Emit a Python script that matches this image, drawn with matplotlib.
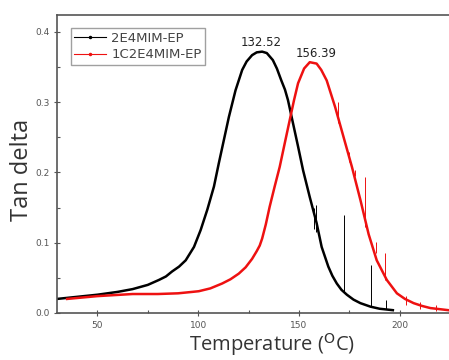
import matplotlib.pyplot as plt
from matplotlib.lines import Line2D
from matplotlib.ticker import MultipleLocator

# 2E4MIM-EP
t_black = [30, 40, 50, 60, 67.5, 75, 80.5, 84, 87, 90.5, 93.8, 97.9, 101.2, 104.5,
           107.8, 110.2, 112.7, 115.2, 118.5, 121.8, 124, 126.7, 129, 131.7, 134,
           137, 139, 141.2, 143, 144.5, 147, 149.5, 152, 155.3, 158.7, 161.2, 164.5,
           166.5, 168.7, 171, 173.7, 177, 180.4, 185.4, 190, 196.5]
y_black = [0.020, 0.023, 0.026, 0.030, 0.034, 0.040, 0.047, 0.052, 0.059, 0.066,
           0.075, 0.094, 0.118, 0.147, 0.180, 0.213, 0.246, 0.279, 0.317, 0.346,
           0.358, 0.367, 0.371, 0.372, 0.370, 0.360, 0.348, 0.331, 0.318, 0.303,
           0.270, 0.237, 0.203, 0.165, 0.128, 0.094, 0.066, 0.053, 0.042, 0.033,
           0.026, 0.019, 0.014, 0.009, 0.006, 0.004]

# 1C2E4MIM-EP
t_red = [35, 50, 67.5, 80, 90, 97, 100.3, 106, 111.9, 116, 120.1, 123.5, 126.7, 129,
         130.5, 131.7, 133.5, 135.4, 137.9, 140.4, 143, 145.4, 147.5, 149.5, 152.5,
         155.3, 158.7, 161, 163.7, 167.9, 172, 176.2, 180.4, 184.5, 188.5, 193.5,
         198.5, 202.5, 206.8, 211, 215.1, 224]
y_red = [0.020, 0.024, 0.027, 0.027, 0.028, 0.030, 0.031, 0.035, 0.042, 0.048,
         0.056, 0.065, 0.077, 0.088, 0.096, 0.106, 0.126, 0.151, 0.180, 0.208,
         0.243, 0.275, 0.303, 0.327, 0.348, 0.357, 0.355, 0.346, 0.331, 0.293,
         0.251, 0.208, 0.161, 0.112, 0.075, 0.047, 0.028, 0.020, 0.014, 0.010,
         0.007, 0.004]

# noise spikes (temperature, low, high)
spike_t_black = [157.5, 158.5, 172.3, 185.5, 192.9]
spike_lo_black = [0.12, 0.115, 0.03, 0.010, 0.006]
spike_hi_black = [0.150, 0.154, 0.139, 0.068, 0.018]

spike_t_red = [169.5, 174.8, 177.7, 182.7, 188, 192.6, 203, 210, 218]
spike_lo_red = [0.27, 0.215, 0.195, 0.123, 0.085, 0.047, 0.012, 0.005, 0.003]
spike_hi_red = [0.30, 0.229, 0.203, 0.193, 0.101, 0.085, 0.024, 0.015, 0.012]

series_labels = ['2E4MIM-EP', '1C2E4MIM-EP']
peak_labels = ["132.52", "156.39"]
peak_pos = [(131.2, 0.385), (158.7, 0.370)]

black = 'black'
red = '#ee1111'

fig = plt.figure(figsize=(4.49, 3.60), dpi=100)
ax = fig.add_axes([0.127, 0.1306, 0.876, 0.8274])

ax.plot(t_black, y_black, color=black, lw=1.8, solid_joinstyle='round')
ax.plot(t_red, y_red, color=red, lw=1.8, solid_joinstyle='round')
ax.vlines(spike_t_black, spike_lo_black, spike_hi_black, color=black, lw=0.7)
ax.vlines(spike_t_red, spike_lo_red, spike_hi_red, color=red, lw=0.7)

for lab, (x, y) in zip(peak_labels, peak_pos):
    ax.text(x, y, lab, ha='center', va='center', fontsize=8.5, color='#222222')

ax.set_xlim(30, 225)
ax.set_ylim(0, 0.424)
ax.xaxis.set_major_locator(MultipleLocator(50))
ax.xaxis.set_minor_locator(MultipleLocator(25))
ax.yaxis.set_major_locator(MultipleLocator(0.1))
ax.yaxis.set_minor_locator(MultipleLocator(0.05))
ax.tick_params(which='major', direction='inout', length=4, width=0.8,
               labelsize=6.5, labelcolor='#555555', color='#555555')
ax.tick_params(which='minor', direction='in', length=2, width=0.8, color='#555555')
ax.yaxis.set_major_formatter(plt.FuncFormatter(lambda v, p: f"{v:.1f}"))
for s in ax.spines.values():
    s.set_color('#555555')
    s.set_linewidth(1.2)
ax.spines['right'].set_visible(False)

ax.set_ylabel('Tan delta', fontsize=17, color='#333333', family='Open Sans')
ax.set_xlabel(r'Temperature ($^{\mathrm{O}}$C)', fontsize=14.5, color='#333333',
              family='Open Sans')
ax.yaxis.set_label_coords(-0.058, 0.48)
ax.xaxis.set_label_coords(0.547, -0.06)

handles = [Line2D([], [], color=black, lw=0.8, marker='.', ms=3),
           Line2D([], [], color=red, lw=0.8, marker='.', ms=3)]
leg = ax.legend(handles, series_labels, loc='upper left',
                bbox_to_anchor=(0.036, 0.956), fontsize=9.5,
                fancybox=False, edgecolor='#888888', borderpad=0.25,
                handlelength=2.4, handletextpad=0.4, labelspacing=0.3,
                borderaxespad=0)
leg.get_frame().set_linewidth(1.0)
for txt in leg.get_texts():
    txt.set_color('#444444')

fig.savefig('out.png', dpi=100)
